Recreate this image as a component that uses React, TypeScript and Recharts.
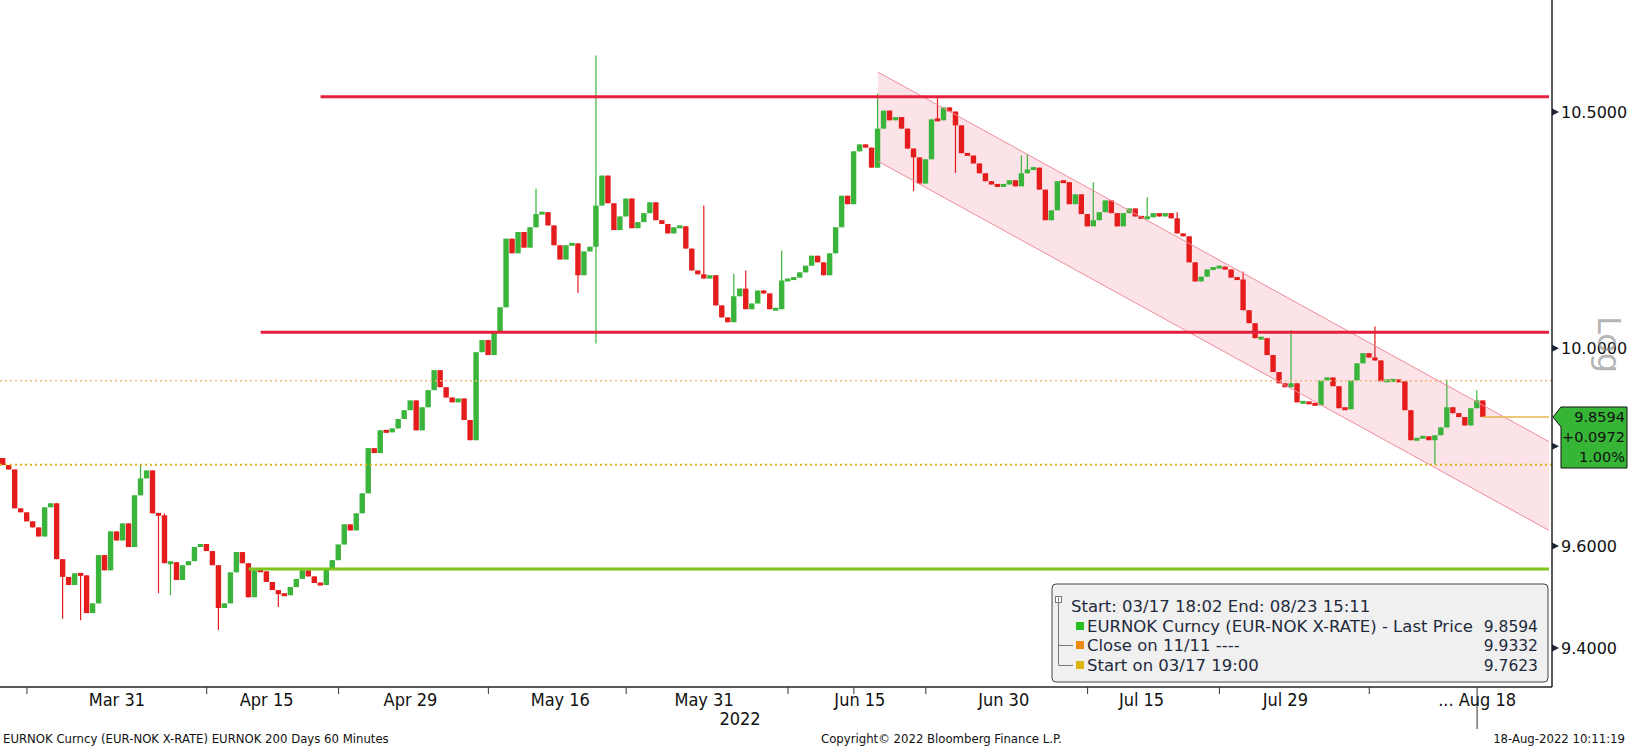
import React from "react";
import { ComposedChart, Bar, Area, Line, XAxis, YAxis, ReferenceLine } from "recharts";

// hourly EURNOK, resampled: one close per slot
const CLOSES = [
  9.762, 9.753, 9.675, 9.667, 9.649, 9.637, 9.619, 9.677, 9.685, 9.574,
  9.539, 9.523, 9.546, 9.542, 9.468, 9.487, 9.582, 9.552, 9.629, 9.611,
  9.645, 9.598, 9.701, 9.735, 9.751, 9.665, 9.661, 9.566, 9.568, 9.533,
  9.562, 9.57, 9.598, 9.604, 9.59, 9.562, 9.478, 9.487, 9.548, 9.588,
  9.566, 9.499, 9.552, 9.55, 9.529, 9.513, 9.505, 9.503, 9.519, 9.535,
  9.552, 9.54, 9.527, 9.523, 9.554, 9.572, 9.603, 9.643, 9.631, 9.665,
  9.705, 9.796, 9.786, 9.832, 9.828, 9.836, 9.855, 9.873, 9.893, 9.832,
  9.879, 9.914, 9.955, 9.92, 9.899, 9.889, 9.897, 9.853, 9.812, 9.992,
  10.017, 9.986, 10.033, 10.085, 10.229, 10.198, 10.243, 10.21, 10.253, 10.281,
  10.285, 10.257, 10.215, 10.185, 10.215, 10.219, 10.152, 10.202, 10.212, 10.299,
  10.363, 10.304, 10.247, 10.276, 10.314, 10.251, 10.264, 10.283, 10.306, 10.268,
  10.26, 10.24, 10.253, 10.255, 10.208, 10.162, 10.154, 10.145, 10.152, 10.089,
  10.064, 10.054, 10.108, 10.124, 10.081, 10.093, 10.12, 10.114, 10.081, 10.081,
  10.141, 10.143, 10.147, 10.158, 10.172, 10.193, 10.179, 10.152, 10.198, 10.253,
  10.32, 10.302, 10.415, 10.43, 10.423, 10.38, 10.464, 10.503, 10.482, 10.489,
  10.464, 10.421, 10.402, 10.346, 10.398, 10.484, 10.482, 10.51, 10.501, 10.471,
  10.411, 10.406, 10.389, 10.368, 10.351, 10.344, 10.34, 10.344, 10.353, 10.34,
  10.368, 10.376, 10.38, 10.333, 10.268, 10.289, 10.351, 10.349, 10.302, 10.323,
  10.281, 10.255, 10.268, 10.285, 10.31, 10.283, 10.255, 10.283, 10.293, 10.276,
  10.272, 10.274, 10.283, 10.276, 10.283, 10.272, 10.24, 10.234, 10.179, 10.139,
  10.149, 10.164, 10.168, 10.17, 10.164, 10.147, 10.143, 10.079, 10.052, 10.021,
  10.021, 9.986, 9.951, 9.928, 9.92, 9.928, 9.889, 9.889, 9.887, 9.883,
  9.934, 9.94, 9.922, 9.877, 9.875, 9.934, 9.969, 9.99, 9.981, 9.975,
  9.932, 9.934, 9.934, 9.932, 9.873, 9.812, 9.816, 9.82, 9.812, 9.822,
  9.838, 9.879, 9.867, 9.859, 9.842, 9.877, 9.893, 9.8594,
];
const FIRST_OPEN = 9.776;

// [slot, high, low] for the long wicks
const SPIKES: [number, number | null, number | null][] = [
  [10, null, 9.457], [13, null, 9.454], [23, 9.762, null], [26, null, 9.507],
  [27, 9.665, null], [28, null, 9.503], [36, null, 9.435], [46, null, 9.48],
  [89, 10.335, null], [96, null, 10.115], [99, 10.623, 10.01], [117, 10.299, null],
  [122, 10.155, null], [124, 10.162, null], [130, 10.204, null], [146, 10.54, null],
  [152, null, 10.33], [156, 10.53, null], [159, null, 10.369], [170, 10.406, null],
  [171, 10.41, null], [182, 10.349, null], [191, 10.317, null], [196, 10.285, null],
  [207, 10.16, null], [215, 10.037, null], [229, 10.045, null], [239, null, 9.763],
  [241, 9.936, null], [246, 9.914, null],
];

// empty slots up to 08/23
const FUTURE_SLOTS = 11;

const Y_TICKS = [9.4, 9.6, 9.8, 10, 10.5];
const Y_HIDDEN = 9.8; // label sits under the last-price tag
const Y_DOMAIN = [9.3246, 10.7456];

const X_LABELS: Record<number, string> = {
  19: "Mar 31", 44: "Apr 15", 68: "Apr 29", 93: "May 16", 117: "May 31",
  143: "Jun 15", 167: "Jun 30", 190: "Jul 15", 214: "Jul 29", 246: "... Aug 18",
};
const YEAR_LABEL: [number, string] = [123, "2022"];
const X_MARKS = [4, 34, 56, 81, 104, 131, 142, 154, 181, 203, 228, 246];

const RES_HIGH = { price: 10.533, from: 53 };
const RES_LOW = { price: 10.033, from: 43 };
const SUPPORT = { price: 9.5545, from: 41 };
const CLOSE_1111 = 9.9332;
const START_PRICE = 9.7623;
const LAST_PRICE = 9.8594;
const CHANGE = "+0.0972";
const CHANGE_PCT = "1.00%";

const CHANNEL_SLOTS = [146, 258];
const CHANNEL_UPPER = [10.587, 9.809];
const CHANNEL_LOWER = [10.394, 9.631];

const GREEN = "#3ab43a";
const RED = "#e41c1c";
const PLOT_RIGHT = 1552;
const PLOT_BOTTOM = 687;
const FONT = "'DejaVu Sans', Verdana, sans-serif";
const NARROW = "'DejaVu Sans Condensed', 'Liberation Sans Narrow', 'DejaVu Sans', sans-serif";

const spikeMap = new Map(SPIKES.map((s) => [s[0], s]));
const data: any[] = [];
for (let i = 0; i < CLOSES.length + FUTURE_SLOTS; i++) {
  const row: any = { i };
  if (i < CLOSES.length) {
    const o = i === 0 ? FIRST_OPEN : CLOSES[i - 1];
    const c = CLOSES[i];
    const s = spikeMap.get(i);
    const h = Math.max(o, c, s?.[1] ?? 0);
    const l = Math.min(o, c, s?.[2] ?? Infinity);
    Object.assign(row, { o, c, h, l, range: [l, h] });
  }
  const k = CHANNEL_SLOTS.indexOf(i);
  if (k >= 0) {
    row.upper = CHANNEL_UPPER[k];
    row.lower = CHANNEL_LOWER[k];
    row.chan = [CHANNEL_LOWER[k], CHANNEL_UPPER[k]];
  }
  data.push(row);
}
const LAST_SLOT = data.length - 1;
const X_TICKS = Array.from(
  new Set([...X_MARKS, ...Object.keys(X_LABELS).map(Number), YEAR_LABEL[0]])
).sort((a, b) => a - b);

function Candle(props: any) {
  const { x, y, width, height, payload } = props;
  if (!payload || payload.h == null) return null;
  const { o, c, h, l } = payload;
  const top = Math.min(y, y + height);
  const hgt = Math.abs(height);
  const span = Math.log(h) - Math.log(l);
  const py = (v: number) => (span > 0 ? top + (hgt * (Math.log(h) - Math.log(v))) / span : top);
  const color = c >= o ? GREEN : RED;
  const b1 = py(Math.max(o, c));
  const b2 = py(Math.min(o, c));
  const bh = Math.max(3, b2 - b1);
  const mid = (b1 + b2) / 2;
  const cx = x + width / 2;
  return (
    <g>
      <line x1={cx} x2={cx} y1={top} y2={top + hgt} stroke={color} strokeWidth={1.2} />
      <rect x={x} y={mid - bh / 2} width={width} height={bh} fill={color} />
    </g>
  );
}

function XTick({ x, payload }: any) {
  const v = payload.value;
  const label = X_LABELS[v];
  return (
    <g>
      {X_MARKS.includes(v) && (
        <line x1={x} x2={x} y1={PLOT_BOTTOM} y2={v === 246 ? 729 : 694} stroke="#333" strokeWidth={1} />
      )}
      {label && (
        <text x={x} y={706} textAnchor="middle" fontFamily={NARROW} fontSize={18} fill="#111">
          {label}
        </text>
      )}
      {v === YEAR_LABEL[0] && (
        <text x={x} y={725} textAnchor="middle" fontFamily={NARROW} fontSize={18} fill="#111">
          {YEAR_LABEL[1]}
        </text>
      )}
    </g>
  );
}

function YTick({ y, payload }: any) {
  const x = PLOT_RIGHT;
  return (
    <g>
      <path d={`M${x} ${y - 3.5} L${x + 7} ${y} L${x} ${y + 3.5} Z`} fill="#1c2333" />
      {payload.value !== Y_HIDDEN && (
        <text x={x + 9} y={y + 6} fontFamily={FONT} fontSize={16} fill="#111">
          {Number(payload.value).toFixed(4)}
        </text>
      )}
    </g>
  );
}

export default function App() {
  return (
    <div style={{ position: "absolute", left: 0, top: 0, width: 1630, height: 747, background: "#fff" }}>
      <ComposedChart width={1630} height={747} data={data} margin={{ top: 0, right: 0, left: 0, bottom: 0 }}>
        <XAxis
          dataKey="i"
          type="category"
          ticks={X_TICKS}
          interval={0}
          tick={<XTick />}
          tickLine={false}
          axisLine={{ stroke: "#222", strokeWidth: 1.5 }}
          height={60}
        />
        <YAxis
          orientation="right"
          type="number"
          scale="log"
          domain={Y_DOMAIN}
          allowDataOverflow
          ticks={Y_TICKS}
          interval={0}
          tick={<YTick />}
          tickLine={false}
          axisLine={{ stroke: "#222", strokeWidth: 1.5 }}
          width={78}
        />
        <Area
          dataKey="chan"
          connectNulls
          stroke="none"
          fill="#fbd9e0"
          fillOpacity={0.75}
          isAnimationActive={false}
          dot={false}
          activeDot={false}
        />
        <Line dataKey="upper" connectNulls stroke="#ef8b9c" strokeWidth={1} dot={false} isAnimationActive={false} />
        <Line dataKey="lower" connectNulls stroke="#ef8b9c" strokeWidth={1} dot={false} isAnimationActive={false} />
        <ReferenceLine y={CLOSE_1111} stroke="#f3b77c" strokeWidth={1.5} strokeDasharray="2 3" />
        <ReferenceLine y={START_PRICE} stroke="#e0b31c" strokeWidth={2} strokeDasharray="2 3" />
        <Bar dataKey="range" barSize={6} shape={(p: any) => <Candle {...p} />} isAnimationActive={false} />
        <ReferenceLine
          segment={[{ x: RES_HIGH.from, y: RES_HIGH.price }, { x: LAST_SLOT, y: RES_HIGH.price }]}
          stroke="#e4203c"
          strokeWidth={3}
        />
        <ReferenceLine
          segment={[{ x: RES_LOW.from, y: RES_LOW.price }, { x: LAST_SLOT, y: RES_LOW.price }]}
          stroke="#e4203c"
          strokeWidth={3}
        />
        <ReferenceLine
          segment={[{ x: SUPPORT.from, y: SUPPORT.price }, { x: LAST_SLOT, y: SUPPORT.price }]}
          stroke="#7dc41c"
          strokeWidth={3}
        />
        <ReferenceLine
          segment={[{ x: CLOSES.length - 1, y: LAST_PRICE }, { x: LAST_SLOT, y: LAST_PRICE }]}
          stroke="#e6b64a"
          strokeWidth={1.5}
        />
      </ComposedChart>

      <svg
        width={1630}
        height={747}
        style={{ position: "absolute", left: 0, top: 0, pointerEvents: "none" }}
      >
        {/* last price tag */}
        <path d="M1553 417 L1561 407 L1627 407 L1627 468 L1561 468 L1561 427 Z" fill="#36b536" stroke="#111" strokeWidth={1} />
        <g fontFamily={FONT} fontSize={14.5} fill="#111" textAnchor="end">
          <text x={1625} y={422}>{LAST_PRICE.toFixed(4)}</text>
          <text x={1625} y={442}>{CHANGE}</text>
          <text x={1625} y={462}>{CHANGE_PCT}</text>
        </g>

        <text
          x={1598}
          y={316}
          transform="rotate(90 1598 316)"
          fontFamily={FONT}
          fontSize={32}
          fill="#8a8a8a"
          fillOpacity={0.65}
        >
          Log
        </text>

        {/* legend */}
        <rect x={1052} y={584} width={496} height={98} rx={4} fill="#f0f0f0" stroke="#444" strokeWidth={1} />
        <g stroke="#777" strokeWidth={1} fill="none">
          <rect x={1055.5} y={596.5} width={6} height={6} fill="#fff" />
          <line x1={1058.5} y1={597.5} x2={1058.5} y2={601.5} />
          <line x1={1058.5} y1={603} x2={1058.5} y2={665} />
          <line x1={1058.5} y1={645.5} x2={1073} y2={645.5} />
          <line x1={1058.5} y1={665.5} x2={1073} y2={665.5} />
        </g>
        <rect x={1076} y={622} width={8} height={8} fill="#22c022" />
        <rect x={1076} y={641} width={8} height={8} fill="#f08a0c" />
        <rect x={1076} y={661} width={8} height={8} fill="#dcb40a" />
        <g fontFamily={FONT} fontSize={16.5} fill="#1e2a3c">
          <text x={1071} y={612}>Start: 03/17 18:02 End: 08/23 15:11</text>
          <text x={1087} y={632}>EURNOK Curncy (EUR-NOK X-RATE) - Last Price</text>
          <text x={1087} y={651}>Close on 11/11 ----</text>
          <text x={1087} y={671}>Start on 03/17 19:00</text>
        </g>
        <g fontFamily={FONT} fontSize={15.5} fill="#1e2a3c" textAnchor="end">
          <text x={1538} y={632}>{LAST_PRICE.toFixed(4)}</text>
          <text x={1538} y={651}>{CLOSE_1111.toFixed(4)}</text>
          <text x={1538} y={671}>{START_PRICE.toFixed(4)}</text>
        </g>

        {/* footer */}
        <g fontFamily={NARROW} fontSize={13} fill="#111">
          <text x={3} y={743}>EURNOK Curncy (EUR-NOK X-RATE) EURNOK 200 Days 60 Minutes</text>
          <text x={821} y={743}>Copyright© 2022 Bloomberg Finance L.P.</text>
          <text x={1625} y={743} textAnchor="end">18-Aug-2022 10:11:19</text>
        </g>
      </svg>
    </div>
  );
}
